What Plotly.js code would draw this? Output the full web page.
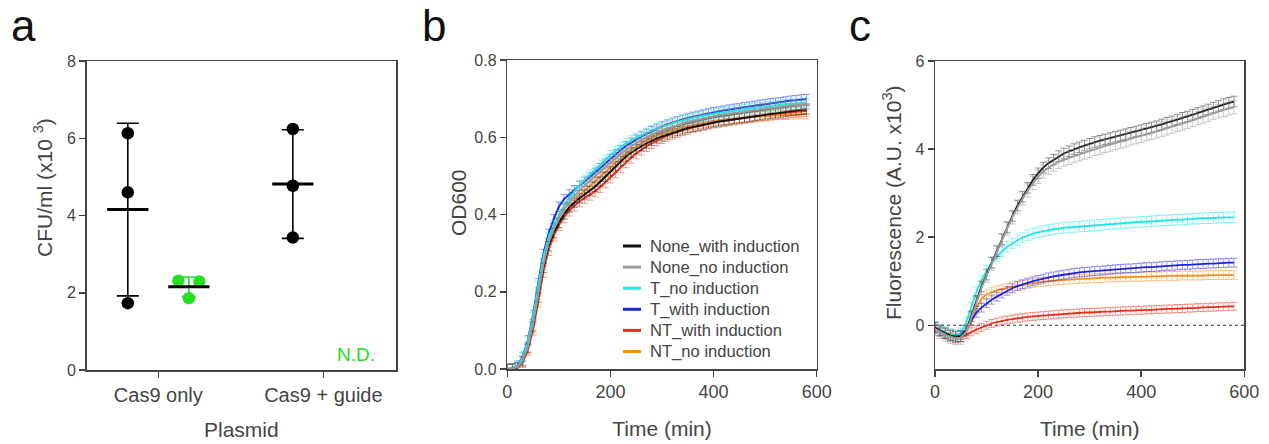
<!DOCTYPE html>
<html>
<head>
<meta charset="utf-8">
<script src="https://cdn.plot.ly/plotly-3.0.1.min.js"></script>
<style>html,body{margin:0;padding:0;background:#fff;}#chart{width:1269px;height:444px;}</style>
</head>
<body>
<div id="chart"></div>
<script>
// ---------- Panel a data ----------
const plasmids = ['Cas9 only', 'Cas9 + guide'];
const cfuBlackCas9Only = [6.13, 4.60, 1.73];
const cfuBlackCas9Guide = [6.24, 4.77, 3.43];
const cfuGreenCas9Only = [2.31, 2.29, 1.86];
const greenGuideLabel = 'N.D.';

// ---------- Panel b / c data ----------
const time = [0,10,20,30,40,50,60,70,80,90,100,110,120,130,140,150,160,170,180,190,200,210,220,230,240,250,260,270,280,290,300,310,320,330,340,350,360,370,380,390,400,410,420,430,440,450,460,470,480,490,500,510,520,530,540,550,560,570,580];
const seriesNames = ['None_with induction','None_no induction','T_no induction','T_with induction','NT_with induction','NT_no induction'];

const odNoneWith = [0.000,0.000,0.004,0.020,0.055,0.110,0.185,0.262,0.318,0.352,0.378,0.400,0.418,0.431,0.442,0.452,0.461,0.472,0.485,0.498,0.512,0.525,0.538,0.550,0.560,0.569,0.577,0.584,0.591,0.597,0.602,0.607,0.612,0.616,0.620,0.624,0.627,0.630,0.633,0.636,0.639,0.641,0.643,0.645,0.647,0.649,0.651,0.653,0.655,0.657,0.659,0.661,0.662,0.664,0.666,0.668,0.669,0.671,0.672];
const odNoneNo = [0.000,0.001,0.005,0.022,0.058,0.115,0.192,0.270,0.326,0.362,0.390,0.413,0.432,0.448,0.462,0.475,0.487,0.499,0.511,0.523,0.535,0.546,0.557,0.567,0.576,0.585,0.593,0.600,0.607,0.613,0.618,0.623,0.628,0.632,0.636,0.640,0.643,0.646,0.649,0.652,0.655,0.657,0.659,0.661,0.663,0.665,0.667,0.669,0.671,0.672,0.674,0.676,0.677,0.679,0.680,0.682,0.683,0.684,0.685];
const odTNo = [0.000,0.002,0.008,0.030,0.072,0.135,0.215,0.290,0.340,0.372,0.398,0.422,0.442,0.460,0.476,0.490,0.503,0.516,0.529,0.542,0.554,0.565,0.575,0.584,0.592,0.599,0.606,0.612,0.618,0.623,0.628,0.632,0.636,0.640,0.644,0.647,0.650,0.653,0.656,0.659,0.661,0.663,0.665,0.667,0.669,0.671,0.673,0.675,0.677,0.678,0.680,0.681,0.683,0.684,0.686,0.687,0.688,0.689,0.690];
const odTWith = [0.000,0.002,0.009,0.032,0.075,0.140,0.222,0.298,0.350,0.388,0.420,0.440,0.452,0.463,0.474,0.485,0.496,0.508,0.520,0.532,0.544,0.556,0.567,0.577,0.586,0.594,0.602,0.609,0.616,0.622,0.628,0.633,0.638,0.642,0.646,0.650,0.653,0.656,0.659,0.662,0.665,0.667,0.669,0.672,0.674,0.676,0.678,0.680,0.682,0.684,0.686,0.688,0.689,0.691,0.693,0.695,0.696,0.698,0.699];
const odNTWith = [0.000,0.000,0.003,0.018,0.050,0.102,0.175,0.252,0.308,0.345,0.372,0.393,0.410,0.423,0.434,0.443,0.451,0.460,0.471,0.483,0.496,0.509,0.522,0.535,0.547,0.558,0.568,0.577,0.585,0.592,0.598,0.604,0.609,0.614,0.618,0.622,0.626,0.629,0.632,0.635,0.638,0.640,0.642,0.644,0.646,0.648,0.650,0.652,0.654,0.656,0.657,0.659,0.660,0.662,0.663,0.665,0.666,0.667,0.668];
const odNTNo = [0.000,0.000,0.003,0.019,0.052,0.106,0.180,0.258,0.314,0.350,0.378,0.401,0.420,0.436,0.450,0.462,0.474,0.486,0.498,0.510,0.522,0.534,0.546,0.557,0.567,0.576,0.584,0.591,0.598,0.604,0.609,0.614,0.618,0.622,0.626,0.629,0.632,0.635,0.637,0.640,0.642,0.644,0.645,0.647,0.648,0.650,0.651,0.652,0.653,0.654,0.655,0.656,0.657,0.658,0.658,0.659,0.659,0.660,0.660];
const odSD = [0.012, 0.012, 0.012, 0.012, 0.014, 0.012];

const flNoneWith = [-0.05,-0.12,-0.18,-0.23,-0.26,-0.25,-0.12,0.20,0.55,0.88,1.15,1.42,1.68,1.95,2.22,2.48,2.72,2.92,3.12,3.30,3.45,3.58,3.68,3.76,3.84,3.90,3.95,4.00,4.04,4.08,4.12,4.16,4.19,4.22,4.25,4.28,4.31,4.34,4.37,4.40,4.43,4.46,4.49,4.52,4.56,4.60,4.63,4.67,4.71,4.74,4.78,4.82,4.86,4.90,4.94,4.98,5.02,5.05,5.08];
const flNoneNo = [-0.08,-0.15,-0.21,-0.26,-0.29,-0.28,-0.15,0.15,0.50,0.84,1.12,1.40,1.66,1.93,2.20,2.45,2.68,2.88,3.06,3.23,3.37,3.49,3.58,3.65,3.71,3.76,3.80,3.84,3.88,3.92,3.96,4.00,4.03,4.07,4.10,4.14,4.17,4.20,4.24,4.27,4.30,4.34,4.37,4.40,4.44,4.47,4.51,4.55,4.58,4.62,4.66,4.70,4.74,4.78,4.82,4.86,4.89,4.92,4.95];
const flTNo = [-0.05,-0.10,-0.15,-0.20,-0.22,-0.18,0.05,0.40,0.75,1.02,1.24,1.42,1.56,1.68,1.78,1.86,1.93,1.99,2.04,2.08,2.11,2.14,2.16,2.18,2.20,2.21,2.22,2.23,2.24,2.25,2.26,2.27,2.28,2.29,2.30,2.31,2.31,2.32,2.33,2.34,2.35,2.35,2.36,2.37,2.38,2.38,2.39,2.40,2.40,2.41,2.42,2.42,2.43,2.43,2.44,2.44,2.45,2.45,2.45];
const flTWith = [-0.05,-0.12,-0.18,-0.22,-0.24,-0.22,-0.10,0.10,0.28,0.40,0.50,0.58,0.65,0.72,0.78,0.84,0.89,0.93,0.97,1.00,1.03,1.06,1.09,1.11,1.13,1.15,1.17,1.19,1.20,1.21,1.22,1.23,1.24,1.25,1.26,1.27,1.28,1.29,1.29,1.30,1.31,1.32,1.32,1.33,1.34,1.35,1.35,1.36,1.37,1.37,1.38,1.39,1.39,1.40,1.40,1.41,1.41,1.42,1.42];
const flNTWith = [-0.08,-0.15,-0.21,-0.26,-0.29,-0.28,-0.22,-0.15,-0.10,-0.05,0.00,0.04,0.07,0.10,0.12,0.14,0.16,0.17,0.19,0.20,0.21,0.22,0.23,0.24,0.25,0.26,0.27,0.27,0.28,0.29,0.29,0.30,0.30,0.31,0.31,0.32,0.32,0.33,0.33,0.34,0.34,0.35,0.35,0.36,0.36,0.37,0.37,0.38,0.38,0.39,0.39,0.40,0.40,0.41,0.41,0.42,0.42,0.43,0.43];
const flNTNo = [-0.08,-0.15,-0.22,-0.27,-0.30,-0.28,-0.18,0.05,0.38,0.60,0.70,0.75,0.79,0.82,0.85,0.88,0.90,0.92,0.94,0.96,0.98,0.99,1.00,1.01,1.02,1.03,1.04,1.05,1.05,1.06,1.06,1.07,1.07,1.08,1.08,1.09,1.09,1.09,1.10,1.10,1.10,1.11,1.11,1.11,1.12,1.12,1.12,1.12,1.13,1.13,1.13,1.13,1.13,1.14,1.14,1.14,1.14,1.14,1.14];
const flSD = [0.12, 0.15, 0.12, 0.10, 0.09, 0.10];

// ---------- styles ----------
const FONT = 'Liberation Sans, Arial, Helvetica, sans-serif';
const TXT = '#444444';
const GREEN = '#22e022';
const colors = ['#111111', '#9a9a9a', '#22e6e6', '#1e22e0', '#ee2a1a', '#ff8c1a'];
const errColors = ['rgba(17,17,17,0.45)', 'rgba(150,150,150,0.5)', 'rgba(34,230,230,0.45)', 'rgba(30,34,224,0.45)', 'rgba(238,42,26,0.45)', 'rgba(255,140,26,0.45)'];
const drawOrder = [4, 5, 3, 2, 0, 1];

const W = 1269, H = 444;
const px = (a, b) => [a / W, b / W];
const py = (top, bot) => [(H - bot) / H, (H - top) / H];
const fx = v => v / W;
const fy = v => (H - v) / H;

// ---------- helpers ----------
const mean = a => a.reduce((s, v) => s + v, 0) / a.length;
const sd = a => { const m = mean(a); return Math.sqrt(a.reduce((s, v) => s + (v - m) * (v - m), 0) / (a.length - 1)); };

const aXRange = [0.566, 2.44];
const aYRange = [0, 8];
const aPxPerY = 309 / 8;
const markerSize = 12.5;
const swarmStep = 0.127;
function swarm(vals, center) {
  const idx = vals.map((v, i) => i).sort((i, j) => vals[j] - vals[i]);
  const rows = [];
  idx.forEach(i => {
    const last = rows[rows.length - 1];
    if (last && Math.abs(vals[last[0]] - vals[i]) * aPxPerY < markerSize) last.push(i);
    else rows.push([i]);
  });
  const xs = new Array(vals.length);
  rows.forEach(r => r.forEach((i, k) => { xs[i] = center + (k - (r.length - 1) / 2) * swarmStep; }));
  return xs;
}

const traces = [];
function groupTraces(vals, center, color, capW) {
  const m = mean(vals), s = sd(vals);
  traces.push({ x: [center], y: [m], type: 'scatter', mode: 'markers', marker: { size: 1, color: 'rgba(0,0,0,0)' },
    error_y: { type: 'data', array: [s], visible: true, color: color, thickness: 1.6, width: capW },
    xaxis: 'x', yaxis: 'y', showlegend: false, hoverinfo: 'skip' });
  traces.push({ x: swarm(vals, center), y: vals, type: 'scatter', mode: 'markers',
    marker: { size: markerSize, color: color }, xaxis: 'x', yaxis: 'y', showlegend: false });
  traces.push({ x: [center - 0.125, center + 0.125], y: [m, m], type: 'scatter', mode: 'lines',
    line: { color: '#000', width: 3 }, xaxis: 'x', yaxis: 'y', showlegend: false, hoverinfo: 'skip' });
}
const offset = 0.185;
groupTraces(cfuBlackCas9Only, 1 - offset, '#000', 11);
groupTraces(cfuGreenCas9Only, 1 + offset, GREEN, 7);
groupTraces(cfuBlackCas9Guide, 2 - offset, '#000', 11);

const odSeries = [odNoneWith, odNoneNo, odTNo, odTWith, odNTWith, odNTNo];
const flSeries = [flNoneWith, flNoneNo, flTNo, flTWith, flNTWith, flNTNo];

drawOrder.forEach(i => {
  traces.push({ x: time, y: odSeries[i], type: 'scatter', mode: 'lines', name: seriesNames[i],
    line: { color: colors[i], width: 2 },
    error_y: { type: 'constant', value: odSD[i], visible: true, color: errColors[i], thickness: 1, width: 3.5 },
    xaxis: 'x2', yaxis: 'y2', showlegend: false });
});
drawOrder.forEach(i => {
  traces.push({ x: time, y: flSeries[i], type: 'scatter', mode: 'lines', name: seriesNames[i],
    line: { color: colors[i], width: 1.8 },
    error_y: { type: 'constant', value: flSD[i], visible: true, color: errColors[i], thickness: 1, width: 3.5 },
    xaxis: 'x3', yaxis: 'y3', showlegend: false });
});

const axisCommon = {
  showline: true, mirror: true, linecolor: '#444', linewidth: 1.5, showgrid: false, zeroline: false,
  ticks: 'outside', ticklen: 6, tickwidth: 1.5, tickcolor: '#444', color: TXT
};

// custom legend (panel b)
const legendShapes = [], legendAnn = [];
const legRow0 = 246, legStep = 21.1;
seriesNames.forEach((n, i) => {
  const yy = legRow0 + i * legStep;
  legendShapes.push({ type: 'line', xref: 'paper', yref: 'paper', x0: fx(623), x1: fx(641), y0: fy(yy), y1: fy(yy),
    line: { color: colors[i], width: 3 } });
  legendAnn.push({ text: n, xref: 'paper', yref: 'paper', x: fx(648), y: fy(yy), xanchor: 'left', yanchor: 'middle',
    showarrow: false, font: { size: 16.6, family: FONT, color: TXT } });
});

const titleFont = { size: 21, family: FONT, color: TXT };
const layout = {
  width: W, height: H,
  margin: { l: 0, r: 0, t: 0, b: 0 },
  paper_bgcolor: '#fff', plot_bgcolor: '#fff',
  font: { family: FONT, color: TXT },
  showlegend: false,
  xaxis: Object.assign({}, axisCommon, {
    domain: px(86.7, 396), anchor: 'y', range: aXRange, tickvals: [1, 2], ticktext: plasmids,
    tickfont: { size: 20 }, title: { text: 'Plasmid', font: titleFont, standoff: 18 } }),
  yaxis: Object.assign({}, axisCommon, {
    domain: py(61, 370), anchor: 'x', range: aYRange, tickvals: [0, 2, 4, 6, 8], tickfont: { size: 16 } }),
  xaxis2: Object.assign({}, axisCommon, {
    domain: px(507.3, 816.7), anchor: 'y2', range: [0, 600], tickvals: [0, 200, 400, 600],
    tickfont: { size: 18 }, title: { text: 'Time (min)', font: titleFont, standoff: 20 } }),
  yaxis2: Object.assign({}, axisCommon, {
    domain: py(60, 369), anchor: 'x2', range: [0, 0.8], tickvals: [0, 0.2, 0.4, 0.6, 0.8], tickformat: '.1f',
    tickfont: { size: 16 } }),
  xaxis3: Object.assign({}, axisCommon, {
    domain: px(935, 1244.3), anchor: 'y3', range: [0, 600], tickvals: [0, 200, 400, 600],
    tickfont: { size: 18 }, title: { text: 'Time (min)', font: titleFont, standoff: 20 } }),
  yaxis3: Object.assign({}, axisCommon, {
    domain: py(61, 369.3), anchor: 'x3', range: [-1, 6], tickvals: [0, 2, 4, 6], tickfont: { size: 16 } }),
  shapes: [
    { type: 'line', xref: 'x3 domain', yref: 'y3', x0: 0, x1: 1, y0: 0, y1: 0, layer: 'below',
      line: { color: '#333', width: 1.2, dash: 'dot' } }
  ].concat(legendShapes),
  annotations: [
    { text: 'a', xref: 'paper', yref: 'paper', x: fx(9), y: fy(26), xanchor: 'left', yanchor: 'middle', showarrow: false, font: { size: 44, family: FONT, color: '#111' } },
    { text: 'b', xref: 'paper', yref: 'paper', x: fx(420), y: fy(26), xanchor: 'left', yanchor: 'middle', showarrow: false, font: { size: 44, family: FONT, color: '#111' } },
    { text: 'c', xref: 'paper', yref: 'paper', x: fx(847), y: fy(26), xanchor: 'left', yanchor: 'middle', showarrow: false, font: { size: 44, family: FONT, color: '#111' } },
    { text: 'CFU/ml (x10 <sup>3</sup>)', xref: 'paper', yref: 'paper', x: fx(43), y: fy(188), textangle: -90, xanchor: 'center', yanchor: 'middle', showarrow: false, font: titleFont },
    { text: 'OD600', xref: 'paper', yref: 'paper', x: fx(458), y: fy(203), textangle: -90, xanchor: 'center', yanchor: 'middle', showarrow: false, font: titleFont },
    { text: 'Fluorescence (A.U. x10<sup>3</sup>)', xref: 'paper', yref: 'paper', x: fx(892), y: fy(203), textangle: -90, xanchor: 'center', yanchor: 'middle', showarrow: false, font: titleFont },
    { text: greenGuideLabel, xref: 'x', yref: 'y', x: 2 + offset + 0.015, y: 0.39, xanchor: 'center', yanchor: 'middle', showarrow: false, font: { size: 19, family: FONT, color: GREEN } }
  ].concat(legendAnn)
};

Plotly.newPlot('chart', traces, layout, { staticPlot: true, displayModeBar: false });
</script>
</body>
</html>
